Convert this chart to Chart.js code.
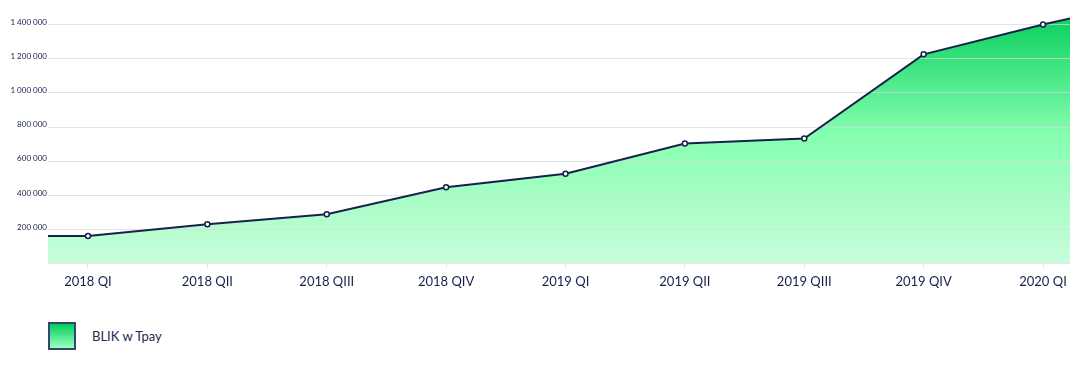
<!DOCTYPE html>
<html>
<head>
<meta charset="utf-8">
<script src="https://cdn.jsdelivr.net/npm/chart.js@4/dist/chart.umd.min.js"></script>
<style>
  html, body { margin: 0; padding: 0; background: #fff; }
  #wrap { position: relative; width: 1092px; height: 376px; overflow: hidden; }
  #chartBox { position: absolute; left: 0; top: 0; width: 1092px; height: 297px; }
  .legend { position: absolute; left: 48px; top: 322px; display: flex; align-items: center;
            font-family: Lato, 'Open Sans', sans-serif; font-size: 13px; color: #1b2a4a; }
  .legend .swatch { width: 24px; height: 24px; border: 2px solid #34466e;
                    background: linear-gradient(#00cf5c, #9dffc0); margin-right: 16px; }
</style>
</head>
<body>
<div id="wrap">
  <div id="chartBox"><canvas id="blikChart"></canvas></div>
  <div class="legend"><div class="swatch"></div><span>BLIK w Tpay</span></div>
</div>
<script>
'use strict';

/* ── Data ─────────────────────────────────────────────────────────────── */
const quarters   = ['2018 QI', '2018 QII', '2018 QIII', '2018 QIV', '2019 QI',
                    '2019 QII', '2019 QIII', '2019 QIV', '2020 QI'];
const blikValues = [161000, 229000, 287000, 446000, 524000, 701000, 730000, 1223000, 1398000];
// where the line meets the left / right edge of the plot
const edgeValues = [161000, 1433000];
const yTicks     = [200000, 400000, 600000, 800000, 1000000, 1200000, 1400000];

const X_MIN = -0.335, X_MAX = 8.226;
const NAVY = '#15224a';

const fmt = v => String(v).replace(/\B(?=(\d{3})+(?!\d))/g, ' ');

const points = [{ x: X_MIN, y: edgeValues[0] }]
    .concat(blikValues.map((v, i) => ({ x: i, y: v })))
    .concat([{ x: X_MAX, y: edgeValues[1] }]);

/* grid lines on top of the area fill */
const gridOverFill = {
    id: 'gridOverFill',
    beforeDatasetDraw(chart) {
        const { ctx, chartArea, scales } = chart;
        ctx.save();
        ctx.strokeStyle = 'rgba(212,214,228,0.7)';
        ctx.lineWidth = 1;
        yTicks.forEach(v => {
            const y = Math.round(scales.y.getPixelForValue(v)) + 0.5;
            ctx.beginPath();
            ctx.moveTo(chartArea.left, y);
            ctx.lineTo(chartArea.right, y);
            ctx.stroke();
        });
        ctx.restore();
    },
};

function areaGradient(context) {
    const { ctx, chartArea } = context.chart;
    if (!chartArea) return '#80ffad';
    const g = ctx.createLinearGradient(0, chartArea.top, 0, chartArea.bottom);
    g.addColorStop(0, '#00cc58');
    g.addColorStop(0.5, '#86ffb0');
    g.addColorStop(1, '#c8fddb');
    return g;
}

new Chart(document.getElementById('blikChart'), {
    type: 'line',
    data: {
        datasets: [{
            label: 'BLIK w Tpay',
            data: points,
            borderColor: NAVY,
            borderWidth: 2,
            backgroundColor: areaGradient,
            fill: 'origin',
            tension: 0,
            pointRadius: ctx => (ctx.raw && Number.isInteger(ctx.raw.x) ? 2.5 : 0),
            pointBorderWidth: 1.5,
            pointBackgroundColor: '#ffffff',
            pointBorderColor: NAVY,
        }],
    },
    options: {
        responsive: true,
        maintainAspectRatio: false,
        animation: false,
        layout: { padding: { top: 7, right: 22, bottom: 0, left: 0 } },
        plugins: {
            legend: { display: false },
            tooltip: { enabled: false },
        },
        scales: {
            x: {
                type: 'linear',
                min: X_MIN,
                max: X_MAX,
                afterBuildTicks: s => { s.ticks = quarters.map((_, i) => ({ value: i })); },
                ticks: {
                    callback: v => quarters[v],
                    color: NAVY,
                    font: { family: 'Lato', size: 13 },
                    padding: 7,
                    maxRotation: 0,
                    autoSkip: false,
                },
                grid: { drawOnChartArea: false, tickLength: 4, color: '#dde0e8' },
                border: { color: '#e3e6ee' },
            },
            y: {
                min: 0,
                max: 1500000,
                afterBuildTicks: s => { s.ticks = yTicks.map(v => ({ value: v })); },
                afterFit: s => { s.width = 48; },
                ticks: {
                    callback: v => fmt(v),
                    color: NAVY,
                    font: { family: 'Lato', size: 8 },
                    padding: 1,
                    labelOffset: -2,
                },
                grid: { display: false, drawTicks: false },
                border: { display: false },
            },
        },
    },
    plugins: [gridOverFill],
});
</script>
</body>
</html>
